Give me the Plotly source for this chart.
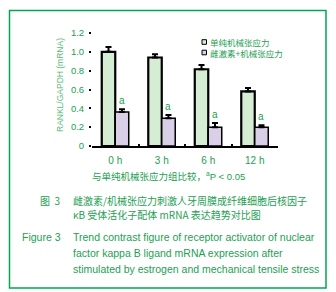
import plotly.graph_objects as go

categories = ["0 h", "3 h", "6 h", "12 h"]
mech_only = [1.00, 0.94, 0.815, 0.58]
mech_err = [0.05, 0.035, 0.045, 0.035]
estro_mech = [0.36, 0.295, 0.20, 0.20]
estro_err = [0.03, 0.035, 0.045, 0.02]
sig_marks = ["a", "a", "a", "a"]
ytick_vals = [0, 0.2, 0.4, 0.6, 0.8, 1.0, 1.2]
ytick_text = ["0", "0.2", "0.4", "0.6", "0.8", "1.0", "1.2"]
series_names = ["单纯机械张应力", "雌激素+机械张应力"]

GREEN_FILL = "#d5edd2"
PURPLE_FILL = "#d9d0e8"
TXT = "#23a052"
TXT_LIGHT = "#5cba7c"
BORDER = "#00a651"
FONT = "Liberation Sans, Arial, Noto Sans CJK SC, sans-serif"
CJK = "Noto Sans CJK SC, sans-serif"

W, H = 336, 292
L, R, T, B = 92, 278, 33, 146
bargap = 0.42


def px(x):
    return (x - L) / (R - L)


def py(y):
    return (B - y) / (B - T)


fig = go.Figure()
fig.add_trace(go.Bar(
    x=categories, y=mech_only, name=series_names[0],
    marker=dict(color=GREEN_FILL, line=dict(color="black", width=2.2)),
    error_y=dict(type="data", symmetric=False, array=mech_err,
                 arrayminus=[0] * 4, color="black", thickness=2, width=3),
    showlegend=False,
))
fig.add_trace(go.Bar(
    x=categories, y=estro_mech, name=series_names[1],
    marker=dict(color=PURPLE_FILL, line=dict(color="black", width=1.5)),
    error_y=dict(type="data", symmetric=False, array=estro_err,
                 arrayminus=[0] * 4, color="black", thickness=2, width=3),
    showlegend=False,
))

annotations = []
off = (1 - bargap) / 4
for i, (v, e, m) in enumerate(zip(estro_mech, estro_err, sig_marks)):
    annotations.append(dict(x=i + off, y=v + e, xref="x", yref="y", text=m,
                            showarrow=False, xanchor="center", yanchor="bottom", yshift=1,
                            font=dict(size=10, color=TXT, family=FONT)))

# y-axis title
annotations.append(dict(x=px(60), y=py(85), xref="paper", yref="paper",
                        text="RANKL/GAPDH (mRNA)", textangle=-90, showarrow=False,
                        xanchor="center", yanchor="middle",
                        font=dict(size=8.5, color=TXT_LIGHT, family=FONT)))

# legend
legend_rows = [(42, GREEN_FILL, series_names[0]), (52.5, PURPLE_FILL, series_names[1])]
shapes = []
for yy, col, name in legend_rows:
    shapes.append(dict(type="rect", xref="paper", yref="paper",
                       x0=px(202), x1=px(206.5), y0=py(yy + 2.3), y1=py(yy - 2.3),
                       fillcolor=col, line=dict(color="black", width=1)))
    annotations.append(dict(x=px(207.5), y=py(yy), xref="paper", yref="paper",
                            text=name, showarrow=False, xanchor="left", yanchor="middle",
                            font=dict(size=8.5, color=TXT, family=CJK)))

# note
annotations.append(dict(x=px(168), y=py(176), xref="paper", yref="paper",
                        text="与单纯机械张应力组比较，<sup>a</sup>P < 0.05", showarrow=False,
                        xanchor="center", yanchor="middle",
                        font=dict(size=9.5, color=TXT, family=FONT + ", " + CJK)))

# caption
cap = [
    (38, 200, "图  3", CJK, 10),
    (71, 200, "雌激素/机械张应力刺激人牙周膜成纤维细胞后核因子", CJK, 10),
    (71, 215, "κB 受体活化子配体 mRNA 表达趋势对比图", CJK, 10),
    (20, 237, "Figure 3", FONT, 10.5),
    (71, 237, "Trend contrast figure of receptor activator of nuclear", FONT, 10.5),
    (71, 253, "factor kappa B ligand mRNA expression after", FONT, 10.5),
    (71, 269, "stimulated by estrogen and mechanical tensile stress", FONT, 10.5),
]
for x, y, t, f, s in cap:
    annotations.append(dict(x=px(x), y=py(y), xref="paper", yref="paper", text=t,
                            showarrow=False, xanchor="left", yanchor="middle",
                            font=dict(size=s, color=TXT, family=f)))

# frame border
shapes.append(dict(type="rect", xref="paper", yref="paper", layer="above",
                   x0=px(9.5), x1=px(326), y0=py(10.5), y1=py(288),
                   line=dict(color=BORDER, width=1.5), fillcolor="rgba(0,0,0,0)"))

fig.update_layout(
    width=W, height=H,
    margin=dict(l=L, r=W - R, t=T, b=H - B, pad=0),
    paper_bgcolor="white", plot_bgcolor="white",
    barmode="group", bargap=bargap, bargroupgap=0,
    font=dict(family=FONT, color=TXT),
    annotations=annotations, shapes=shapes,
    xaxis=dict(type="category", range=[-0.5, 3.5], showline=True, linecolor="black",
               linewidth=1.5, ticks="inside", tickson="boundaries", ticklen=2,
               tickwidth=2, tickcolor="black", showgrid=False, zeroline=False,
               tickfont=dict(size=10, color=TXT, family=FONT), ticklabelstandoff=4),
    yaxis=dict(range=[0, 1.2], tickvals=ytick_vals, ticktext=ytick_text,
               showline=False, ticks="outside", ticklen=2, tickwidth=2,
               tickcolor="black", showgrid=False, zeroline=False,
               tickfont=dict(size=9.5, color=TXT, family=FONT), ticklabelstandoff=3),
)

fig.write_html("out.html", config={"displayModeBar": False},
               post_script="document.body.style.margin='0';document.body.style.overflow='hidden';")
